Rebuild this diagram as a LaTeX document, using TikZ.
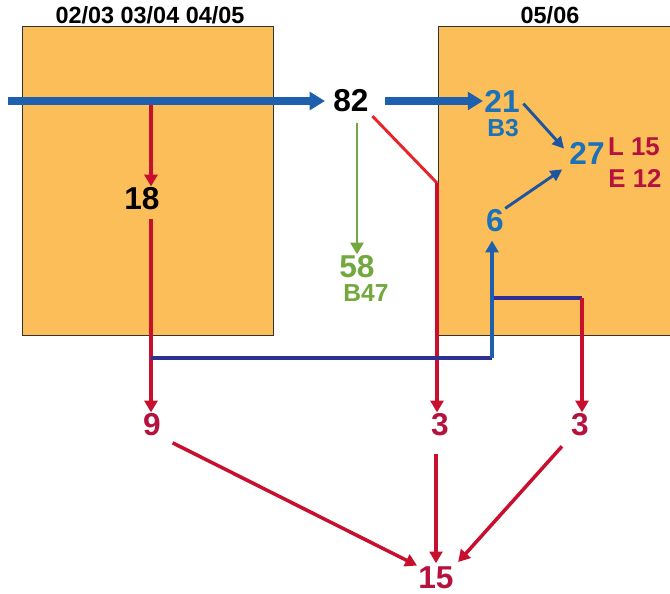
\documentclass[tikz,border=0pt]{standalone}
\usepackage{fontspec}
\setmainfont{Liberation Sans}
\usetikzlibrary{arrows.meta}

\definecolor{boxorange}{HTML}{FCBE58}
\definecolor{flowblue}{HTML}{1E5FAE}
\definecolor{textblue}{HTML}{1B72B8}
\definecolor{lineblue}{HTML}{1F55A0}
\definecolor{navy}{HTML}{2E3192}
\definecolor{flowred}{HTML}{C8102E}
\definecolor{textred}{HTML}{B5123E}
\definecolor{brightred}{HTML}{E8242A}
\definecolor{flowgreen}{HTML}{72A83E}

\tikzset{
  period/.style={fill=boxorange, draw=black!80, line width=0.6pt},
  title/.style={font=\fontsize{20}{22}\selectfont\bfseries},
  num/.style={font=\fontsize{27}{30}\selectfont\bfseries, inner sep=1pt},
  sub/.style={font=\fontsize{21}{24}\selectfont\bfseries, inner sep=1pt},
  side/.style={font=\fontsize{22}{24}\selectfont\bfseries, inner sep=1pt, text=textred},
  bigflow/.style={draw=flowblue, line width=6pt, -{Triangle[width=15pt,length=13pt]}},
  blueflow/.style={draw=lineblue, line width=2.5pt, -{Triangle[width=10pt,length=10pt]}},
  redflow/.style={draw=flowred, line width=3pt, -{Triangle[width=11pt,length=10pt]}},
  greenflow/.style={draw=flowgreen, line width=2.5pt, -{Triangle[width=11pt,length=10pt]}},
  link/.style={draw=navy, line width=3pt}
}

\begin{document}
\begin{tikzpicture}[x=0.03cm, y=-0.03cm]
 \useasboundingbox (0,0) rectangle (670,594);

 % periods
 \path[period] (22,26) rectangle (273,335);
 \path[period] (438,26) rectangle (674,335);
 \node[title] (tleft) at (150,15.5) {02/03 03/04 04/05};
 \node[title] (tright) at (550,15.5) {05/06};

 % counts
 \node[num] (n82) at (351,101) {82};
 \node[num, text=textblue] (n21) at (502,101) {21};
 \node[sub, text=textblue] (b3) at (503,128) {B3};
 \node[num, text=textblue] (n27) at (587,153) {27};
 \node[side] (l15) at (634,147) {L 15};
 \node[side] (e12) at (635,179) {E 12};
 \node[num, text=textblue] (n6) at (495,221) {6};
 \node[num, text=flowgreen] (n58) at (357,267) {58};
 \node[sub, text=flowgreen] (b47) at (366,293) {B47};
 \node[num] (n18) at (142,199) {18};
 \node[num, text=textred] (n9) at (152,425) {9};
 \node[num, text=textred] (n3a) at (440,425) {3};
 \node[num, text=textred] (n3b) at (580,425) {3};
 \node[num, text=textred] (n15) at (436,578) {15};

 \coordinate (in) at (8,101);
 \coordinate (tap) at (151,101);
 \coordinate (bend) at (437,183);
 \coordinate (j1) at (151,358);
 \coordinate (j2) at (492,358);
 \coordinate (j3) at (492,298);
 \coordinate (j4) at (582,298);

 % main stream
 \draw[redflow] (tap) -- (tap |- n18.north);
 \draw[bigflow, shorten >=6pt] (in) -- (n82.west);
 \draw[bigflow, shorten <=13pt] (n82.east) -- (n21.west);
 \draw[blueflow, shorten <=3pt, shorten >=5pt] (n21.east) -- (n27.west);
 \draw[blueflow, shorten >=6pt] (n6.north east) -- (n27.south west);
 \draw[greenflow, shorten <=8pt] (n58.north |- n82.south) -- (n58.north);

 % losses
 \draw[brightred, line width=2.5pt, shorten <=3pt] (n82.south east) -- (bend);
 \draw[redflow] (bend) -- (bend |- n3a.north);
 \draw[redflow, shorten <=6pt] (n18.south -| tap) -- (n9.north -| tap);
 \draw[link] (j1) -- (j2);
 \draw[link] (j3) -- (j4);
 \draw[draw=flowblue, line width=3pt, -{Triangle[width=11pt,length=10pt]}, shorten >=6pt] (j2) -- (n6.south -| j2);
 \draw[redflow] (j4) -- (j4 |- n3b.north);

 % totals
 \draw[redflow, shorten <=10pt] (n9.south east) -- (n15.north west);
 \draw[redflow, shorten <=14pt, shorten >=2pt] (n15.north |- n3a.south) -- (n15.north);
 \draw[redflow, shorten <=10pt, shorten >=4pt] (n3b.south west) -- (n15.north east);
\end{tikzpicture}
\end{document}
